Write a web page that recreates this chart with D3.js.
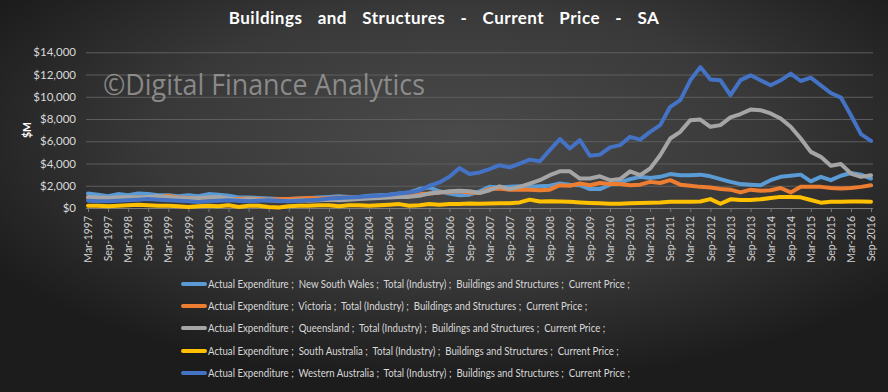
<!DOCTYPE html>
<html><head><meta charset="utf-8">
<script src="https://cdn.jsdelivr.net/npm/d3@7/dist/d3.min.js"></script>
<style>
html,body{margin:0;padding:0;background:#262626;}
svg{display:block;}
text{font-family:Lato,"Open Sans",sans-serif;}
</style>
</head><body>
<svg id="chart" width="888" height="392"></svg>
<script>
const quarters = [
"Mar-1997","Jun-1997","Sep-1997","Dec-1997","Mar-1998","Jun-1998","Sep-1998","Dec-1998",
"Mar-1999","Jun-1999","Sep-1999","Dec-1999","Mar-2000","Jun-2000","Sep-2000","Dec-2000",
"Mar-2001","Jun-2001","Sep-2001","Dec-2001","Mar-2002","Jun-2002","Sep-2002","Dec-2002",
"Mar-2003","Jun-2003","Sep-2003","Dec-2003","Mar-2004","Jun-2004","Sep-2004","Dec-2004",
"Mar-2005","Jun-2005","Sep-2005","Dec-2005","Mar-2006","Jun-2006","Sep-2006","Dec-2006",
"Mar-2007","Jun-2007","Sep-2007","Dec-2007","Mar-2008","Jun-2008","Sep-2008","Dec-2008",
"Mar-2009","Jun-2009","Sep-2009","Dec-2009","Mar-2010","Jun-2010","Sep-2010","Dec-2010",
"Mar-2011","Jun-2011","Sep-2011","Dec-2011","Mar-2012","Jun-2012","Sep-2012","Dec-2012",
"Mar-2013","Jun-2013","Sep-2013","Dec-2013","Mar-2014","Jun-2014","Sep-2014","Dec-2014",
"Mar-2015","Jun-2015","Sep-2015","Dec-2015","Mar-2016","Jun-2016","Sep-2016"];
const tickLabels = quarters.filter((d, i) => i % 2 === 0);
const yTicks = [0, 2000, 4000, 6000, 8000, 10000, 12000, 14000];

const nswValues = [1300,1200,1050,1250,1150,1300,1250,1150,1150,1050,
 1150,1050,1250,1200,1100,950,950,900,850,800,
 800,850,900,950,1000,1050,1000,1000,1100,1150,
 1200,1300,1400,1700,1850,1500,1300,1150,1200,1500,
 1900,1850,1900,1950,1900,1950,2000,2200,2100,2050,
 1700,1700,2100,2300,2600,2800,2700,2800,3050,2950,
 2950,3000,2850,2600,2350,2150,2100,2050,2500,2800,
 2900,3000,2400,2800,2500,2900,3150,3000,2650];
const vicValues = [900,850,850,900,900,950,900,950,1100,950,
 900,850,900,800,750,800,850,800,750,800,
 800,850,900,850,900,950,950,1000,1000,1050,
 1100,1150,1200,1250,1300,1400,1450,1500,1400,1350,
 1700,1750,1650,1650,1650,1600,1650,2050,2000,2200,
 2050,2250,2150,2150,2050,2100,2350,2250,2500,2100,
 2000,1900,1850,1700,1650,1400,1650,1550,1600,1800,
 1400,1900,1900,1900,1800,1750,1800,1900,2050];
const qldValues = [1000,950,900,950,1000,950,1000,1050,1000,900,
 850,900,950,1000,850,700,800,750,700,650,
 650,700,650,700,750,700,750,800,850,900,
 950,1000,1000,1100,1300,1400,1500,1550,1500,1350,
 1600,1950,1700,1900,2200,2500,2950,3300,3300,2650,
 2650,2850,2500,2600,3300,2950,3550,4750,6250,6850,
 7900,7950,7300,7450,8150,8450,8850,8800,8500,8050,
 7300,6250,5050,4600,3800,3950,3100,2800,2950];
const saValues = [200,200,150,200,250,300,250,200,200,150,
 100,150,200,150,250,100,200,200,100,50,
 150,200,200,250,250,150,250,250,200,250,
 300,350,200,250,350,300,350,350,400,380,
 400,420,420,500,750,580,600,580,560,500,
 460,420,380,380,420,450,480,500,560,560,
 570,580,800,380,780,720,720,780,900,1000,
 1000,960,720,480,560,560,580,580,570];
const waValues = [650,600,600,650,700,750,800,750,700,650,
 600,550,600,650,700,650,600,650,700,650,
 600,650,700,750,850,900,950,1000,1050,1100,
 1200,1300,1400,1550,2000,2300,2800,3600,3050,3200,
 3500,3850,3650,4000,4350,4200,5200,6200,5350,6100,
 4700,4800,5450,5650,6400,6150,6850,7450,9100,9700,
 11480,12670,11550,11480,10140,11500,11930,11480,11030,11480,
 12080,11420,11720,11030,10340,9930,8340,6640,6040];

const seriesLabels = [
 "Actual Expenditure ;  New South Wales ;  Total (Industry) ;  Buildings and Structures ;  Current Price ;",
 "Actual Expenditure ;  Victoria ;  Total (Industry) ;  Buildings and Structures ;  Current Price ;",
 "Actual Expenditure ;  Queensland ;  Total (Industry) ;  Buildings and Structures ;  Current Price ;",
 "Actual Expenditure ;  South Australia ;  Total (Industry) ;  Buildings and Structures ;  Current Price ;",
 "Actual Expenditure ;  Western Australia ;  Total (Industry) ;  Buildings and Structures ;  Current Price ;"];
const seriesValues = [nswValues, vicValues, qldValues, saValues, waValues];
const seriesColors = ["#5B9BD5", "#ED7D31", "#A5A5A5", "#FFC000", "#4472C4"];

const svg = d3.select("#chart");
const W = 888, H = 392;

// background gradient
const defs = svg.append("defs");
const rg = defs.append("radialGradient").attr("id", "bg")
  .attr("cx", 0.52).attr("cy", 0.36).attr("r", 0.62);
rg.append("stop").attr("offset", 0).attr("stop-color", "#4b4b4b");
rg.append("stop").attr("offset", 0.55).attr("stop-color", "#393939");
rg.append("stop").attr("offset", 1).attr("stop-color", "#1c1c1c");
svg.append("rect").attr("width", W).attr("height", H).attr("fill", "url(#bg)");

const x = d3.scalePoint().domain(quarters).range([88, 871]);
const y = d3.scaleLinear().domain([0, 14000]).range([208, 52.3]);

// gridlines
svg.append("g").attr("transform", "translate(86,0)")
  .call(d3.axisLeft(y).tickValues(yTicks).tickSize(-787).tickFormat(""))
  .call(g => g.select(".domain").remove())
  .call(g => g.selectAll("line").attr("stroke", "#5e5e5e").attr("stroke-width", 1));

// y axis labels
svg.append("g").attr("transform", "translate(76,0)")
  .call(d3.axisLeft(y).tickValues(yTicks).tickSize(0).tickPadding(0)
    .tickFormat(d => "$" + d3.format(",")(d)))
  .call(g => g.select(".domain").remove())
  .call(g => g.selectAll("text").attr("fill", "#d9d9d9").style("font-size", "11.5px")
    .style("font-family", "Lato, sans-serif"));

// x axis
const xg = svg.append("g").attr("transform", "translate(0,208)")
  .call(d3.axisBottom(x).tickValues(tickLabels).tickSize(4).tickPadding(3));
xg.select(".domain").attr("stroke", "#7a7a7a").attr("d", "M86,0.5H873");
xg.selectAll(".tick line").attr("stroke", "#7a7a7a");
xg.selectAll(".tick text")
  .attr("fill", "#d0d0d0").style("font-size", "10.5px").style("font-family", "Lato, sans-serif")
  .attr("transform", "rotate(-90)")
  .attr("text-anchor", "end").attr("x", -8).attr("y", 0).attr("dy", "0.35em");

// watermark
svg.append("text").attr("x", 103).attr("y", 95)
  .attr("fill", "#a4a4a4").attr("fill-opacity", 0.75)
  .style("font-size", "30px").style("font-family", "'Open Sans', Lato, sans-serif")
  .attr("textLength", 322).attr("lengthAdjust", "spacingAndGlyphs")
  .text("©Digital Finance Analytics");

// lines
const line = d3.line().x((d, i) => x(quarters[i])).y(d => y(d));
seriesValues.forEach((vals, k) => {
  svg.append("path").datum(vals)
    .attr("fill", "none").attr("stroke", seriesColors[k])
    .attr("stroke-width", 4).attr("stroke-linejoin", "round").attr("stroke-linecap", "round")
    .attr("d", line);
});

// title
svg.append("text").attr("x", 444).attr("y", 24).attr("text-anchor", "middle")
  .attr("fill", "#ffffff").style("font-size", "17px").style("font-weight", "bold")
  .style("white-space", "pre").style("font-family", "Lato, sans-serif")
  .style("letter-spacing", "0.5px").style("word-spacing", "3px")
  .text("Buildings  and  Structures  -  Current  Price  -  SA");

// y axis title
svg.append("text").attr("transform", "translate(31,130) rotate(-90)")
  .attr("text-anchor", "middle").attr("fill", "#ffffff")
  .style("font-size", "10.5px").style("font-weight", "bold")
  .text("$M");

// legend
const legY = [284, 306, 328, 351, 373];
const lg = svg.append("g");
seriesLabels.forEach((lab, k) => {
  lg.append("line").attr("x1", 183).attr("x2", 205).attr("y1", legY[k]).attr("y2", legY[k])
    .attr("stroke", seriesColors[k]).attr("stroke-width", 4).attr("stroke-linecap", "round");
  const t = lg.append("text").attr("x", 208).attr("y", legY[k]).attr("dy", "0.35em")
    .attr("fill", "#d9d9d9").style("font-size", "11.5px").style("white-space", "pre")
    .text(lab);
  const w = t.node().getComputedTextLength();
  t.attr("textLength", w * 0.84).attr("lengthAdjust", "spacingAndGlyphs");
});
</script>
</body></html>
